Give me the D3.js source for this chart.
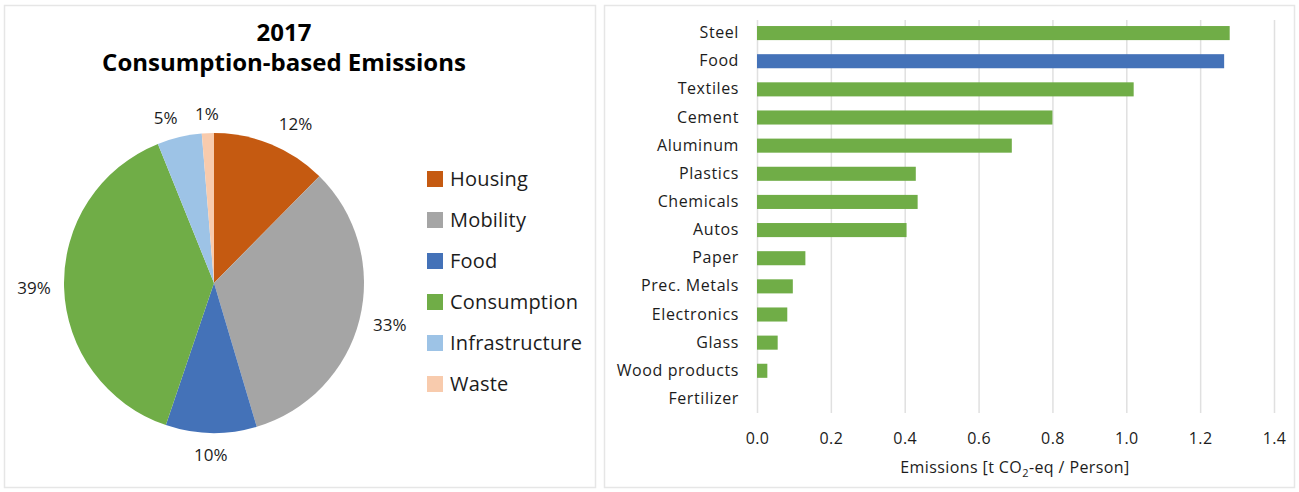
<!DOCTYPE html>
<html>
<head>
<meta charset="utf-8">
<script src="https://cdn.jsdelivr.net/npm/d3@7"></script>
<style>
  html, body { margin: 0; padding: 0; background: #fff; }
  svg { display: block; }
  text { font-family: "Open Sans", "Noto Sans", sans-serif; fill: #1c1c1c; }
</style>
</head>
<body>
<svg id="chart"></svg>
<script>
var sectors = ["Housing", "Mobility", "Food", "Consumption", "Infrastructure", "Waste"];
var sectorShares = [12.4, 33, 9.8, 38.7, 4.8, 1.3];
var sectorLabels = ["12%", "33%", "10%", "39%", "5%", "1%"];
var sectorColors = ["#c55a11", "#a5a5a5", "#4472b8", "#70ad47", "#9dc3e6", "#f8cbad"];

var materials = ["Steel", "Food", "Textiles", "Cement", "Aluminum", "Plastics", "Chemicals",
  "Autos", "Paper", "Prec. Metals", "Electronics", "Glass", "Wood products", "Fertilizer"];
var materialValues = [1.28, 1.265, 1.02, 0.8, 0.69, 0.43, 0.435, 0.405, 0.131, 0.097, 0.082, 0.056, 0.028, 0];
var xTicks = [0, 0.2, 0.4, 0.6, 0.8, 1.0, 1.2, 1.4];

var width = 1299;
var height = 492;

var svg = d3.select("#chart")
  .attr("width", width)
  .attr("height", height);

// panel frames
svg.append("rect")
  .attr("x", 4.5).attr("y", 5.5).attr("width", 591).attr("height", 482)
  .attr("fill", "#fff").attr("stroke", "#e6e6e6").attr("stroke-width", 1.5);
svg.append("rect")
  .attr("x", 604.5).attr("y", 5.5).attr("width", 690).attr("height", 482)
  .attr("fill", "#fff").attr("stroke", "#e6e6e6").attr("stroke-width", 1.5);

// pie
var title = svg.append("text")
  .attr("text-anchor", "middle")
  .style("font-size", "24px")
  .style("font-weight", "700")
  .style("fill", "#000");
title.append("tspan").attr("x", 284).attr("y", 41).text("2017");
title.append("tspan").attr("x", 284).attr("y", 71).text("Consumption-based Emissions");

var radius = 150;
var pieGroup = svg.append("g").attr("transform", "translate(214,283)");

var pie = d3.pie().sort(null).value(function(d) { return d; });
var arc = d3.arc().innerRadius(0).outerRadius(radius);
var labelArc = d3.arc().innerRadius(175).outerRadius(175);
var arcs = pie(sectorShares);

pieGroup.selectAll("path")
  .data(arcs)
  .enter().append("path")
  .attr("d", arc)
  .attr("fill", function(d, i) { return sectorColors[i]; });

// nudges off the label circle, the labels were placed by hand in the original
var labelNudge = [[15, 3], [6, 0], [0, -3], [-5, 0], [-8, 5], [0, 6]];

pieGroup.selectAll("text")
  .data(arcs)
  .enter().append("text")
  .attr("transform", function(d, i) {
    var c = labelArc.centroid(d);
    return "translate(" + (c[0] + labelNudge[i][0]) + "," + (c[1] + labelNudge[i][1]) + ")";
  })
  .attr("text-anchor", "middle")
  .attr("dy", "0.35em")
  .style("font-size", "17px")
  .text(function(d, i) { return sectorLabels[i]; });

// legend
var legendY = d3.scalePoint().domain(sectors).range([179, 384]);
var legend = svg.append("g").selectAll("g")
  .data(sectors)
  .enter().append("g")
  .attr("transform", function(d) { return "translate(427," + legendY(d) + ")"; });

legend.append("rect")
  .attr("y", -8).attr("width", 16).attr("height", 16)
  .attr("fill", function(d, i) { return sectorColors[i]; });

legend.append("text")
  .attr("x", 23)
  .attr("dy", "0.35em")
  .style("font-size", "20px")
  .style("letter-spacing", "0.2px")
  .text(function(d) { return d; });

// bars
var x = d3.scaleLinear().domain([0, 1.4]).range([757, 1274]);
var y = d3.scaleBand().domain(materials).range([19, 413]).paddingInner(0.5).paddingOuter(0.25);

var xAxis = d3.axisBottom(x)
  .tickValues(xTicks)
  .tickFormat(d3.format(".1f"))
  .tickSize(-(413 - 20))
  .tickPadding(20);

var axisGroup = svg.append("g")
  .attr("transform", "translate(0,413)")
  .call(xAxis);
axisGroup.select(".domain").remove();
axisGroup.selectAll("line").attr("stroke", "#e0e0e0").attr("stroke-width", 1.5);
axisGroup.selectAll("text")
  .style("font-size", "16px")
  .style("letter-spacing", "0.4px")
  .attr("fill", null);

svg.selectAll(".bar")
  .data(materials)
  .enter().append("rect")
  .attr("class", "bar")
  .attr("x", x(0))
  .attr("y", function(d) { return y(d); })
  .attr("width", function(d, i) { return x(materialValues[i]) - x(0); })
  .attr("height", y.bandwidth())
  .attr("fill", function(d) { return d == "Food" ? "#4472b8" : "#70ad47"; });

var yAxis = d3.axisLeft(y).tickSize(0).tickPadding(18);
var yGroup = svg.append("g")
  .attr("transform", "translate(757,0)")
  .call(yAxis);
yGroup.select(".domain").remove();
yGroup.selectAll("text")
  .style("font-size", "16px")
  .style("letter-spacing", "0.6px")
  .attr("fill", null);

var xLabel = svg.append("text")
  .attr("x", 1015).attr("y", 473)
  .attr("text-anchor", "middle")
  .style("font-size", "16px")
  .style("letter-spacing", "0.4px");
xLabel.append("tspan").text("Emissions [t CO");
xLabel.append("tspan").attr("dy", 4).style("font-size", "11px").text("2");
xLabel.append("tspan").attr("dy", -4).text("-eq / Person]");
</script>
</body>
</html>
